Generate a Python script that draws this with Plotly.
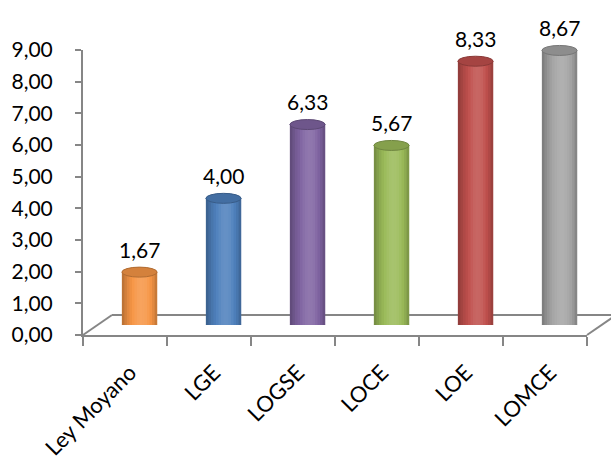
import math
import plotly.graph_objects as go

# ---- data -------------------------------------------------------------
categories = ["Ley Moyano", "LGE", "LOGSE", "LOCE", "LOE", "LOMCE"]
values = [1.67, 4.00, 6.33, 5.67, 8.33, 8.67]
bar_colors = ["#F79646", "#4F81BD", "#8064A2", "#9BBB59", "#C0504D", "#A5A5A5"]
y_ticks = [0, 1, 2, 3, 4, 5, 6, 7, 8, 9]

# ---- geometry (pixels) ------------------------------------------------
W, H = 611, 459
FRONT_LEFT, FRONT_RIGHT = 83, 587      # front floor edge
FRONT_BOTTOM, FRONT_TOP = 335, 50      # value 0 and value 9 on the front plane
DEPTH_DX, DEPTH_DY = 29, 20            # floor depth offset
BAR_FRAC = 0.42                        # cylinder width relative to category
N_STRIPS = 14                          # vertical strips used to shade each cylinder
CAP_H = 10                             # ellipse cap height in px
AXIS_GRAY = "#868686"
FONT = "Lato"


def fx(px):
    return px / W


def fy(py):
    return 1 - py / H


def rgb(hexcol):
    h = hexcol.lstrip("#")
    return tuple(int(h[i:i + 2], 16) for i in (0, 2, 4))


def shade(hexcol, level):
    r, g, b = rgb(hexcol)
    if level <= 1:
        return f"rgb({int(r * level)},{int(g * level)},{int(b * level)})"
    k = min(1.0, (level - 1) * 1.6)
    return f"rgb({int(r + (255 - r) * k)},{int(g + (255 - g) * k)},{int(b + (255 - b) * k)})"


def light_profile(t):
    # darker at both edges, highlight a little right of centre
    return 0.70 + 0.38 * math.sin(math.pi * t ** 1.2) ** 0.6


fig = go.Figure()

# invisible trace so the front axes are drawn
fig.add_trace(go.Scatter(
    x=categories, y=values, xaxis="x", yaxis="y",
    mode="markers", marker=dict(opacity=0), hoverinfo="skip", showlegend=False,
))

# cylinder bodies: one bar trace per shading strip (overlapping, drawn left to right)
step = BAR_FRAC / N_STRIPS
for k in range(N_STRIPS):
    t = (k + 0.5) / N_STRIPS
    lvl = light_profile(t)
    w = step * 2 if k < N_STRIPS - 1 else step
    fig.add_trace(go.Bar(
        x=categories, y=values,
        xaxis="x2", yaxis="y2",
        width=w,
        offset=-BAR_FRAC / 2 + k * step,
        marker=dict(color=[shade(c, lvl) for c in bar_colors], line=dict(width=0)),
        hoverinfo="skip", showlegend=False,
    ))

# value labels above each cylinder
for cat, v in zip(categories, values):
    fig.add_annotation(
        x=cat, y=v, xref="x2", yref="y2",
        text=f"{v:.2f}".replace(".", ","),
        showarrow=False, yshift=23,
        font=dict(family=FONT, size=21, color="black"),
    )

# cylinder caps (top) and rounded bottoms, sized in pixels around the data point
cat_px = (FRONT_RIGHT - FRONT_LEFT) / len(categories)
half_w = BAR_FRAC * cat_px / 2
shapes = []
for i, (v, c) in enumerate(zip(values, bar_colors)):
    shapes.append(dict(
        type="circle", xref="x2", yref="y2",
        xsizemode="pixel", ysizemode="pixel",
        xanchor=i, yanchor=0,
        x0=-half_w, x1=half_w, y0=-CAP_H / 2, y1=CAP_H / 2,
        fillcolor=shade(c, 0.88), line=dict(width=0), layer="below",
    ))
    shapes.append(dict(
        type="circle", xref="x2", yref="y2",
        xsizemode="pixel", ysizemode="pixel",
        xanchor=i, yanchor=v,
        x0=-half_w, x1=half_w, y0=-CAP_H / 2, y1=CAP_H / 2,
        fillcolor=shade(c, 0.86), line=dict(width=1, color=shade(c, 0.72)),
        layer="above",
    ))

# floor: diagonals and back edge
back_y = FRONT_BOTTOM - DEPTH_DY
floor_line = dict(color=AXIS_GRAY, width=2)
shapes += [
    dict(type="line", xref="paper", yref="paper",
         x0=fx(FRONT_LEFT), y0=fy(FRONT_BOTTOM),
         x1=fx(FRONT_LEFT + DEPTH_DX), y1=fy(back_y), line=floor_line, layer="below"),
    dict(type="line", xref="paper", yref="paper",
         x0=fx(FRONT_LEFT + DEPTH_DX), y0=fy(back_y),
         x1=1, y1=fy(back_y), line=floor_line, layer="below"),
    dict(type="line", xref="paper", yref="paper",
         x0=fx(FRONT_RIGHT), y0=fy(FRONT_BOTTOM),
         x1=fx(FRONT_RIGHT + DEPTH_DX), y1=fy(back_y), line=floor_line, layer="below"),
]

px_per_unit = (FRONT_BOTTOM - FRONT_TOP) / 9
bar_bottom = FRONT_BOTTOM - DEPTH_DY / 2
bar_top = bar_bottom - 9 * px_per_unit

fig.update_layout(
    width=W, height=H,
    margin=dict(l=0, r=0, t=0, b=0, autoexpand=False),
    paper_bgcolor="white", plot_bgcolor="rgba(0,0,0,0)",
    barmode="overlay",
    separators=",.",
    showlegend=False,
    shapes=shapes,
    font=dict(family=FONT, size=21, color="black"),
    xaxis=dict(
        domain=[fx(FRONT_LEFT), fx(FRONT_RIGHT)],
        type="category", categoryarray=categories, categoryorder="array",
        range=[-0.5, len(categories) - 0.5],
        tickmode="array", tickvals=categories, ticktext=categories,
        showline=True, linecolor=AXIS_GRAY, linewidth=2,
        ticks="outside", tickson="boundaries", ticklen=9,
        tickcolor=AXIS_GRAY, tickwidth=2,
        tickangle=-45, tickfont=dict(family=FONT, size=22),
        ticklabelstandoff=14, ticklabelshift=5,
        showgrid=False, zeroline=False, anchor="y", automargin=False,
    ),
    yaxis=dict(
        domain=[fy(FRONT_BOTTOM), fy(FRONT_TOP)],
        range=[0, 9], tickmode="array", tickvals=y_ticks, tickformat=".2f",
        showline=True, linecolor=AXIS_GRAY, linewidth=2,
        ticks="outside", ticklen=6, tickcolor=AXIS_GRAY, tickwidth=2,
        ticklabelstandoff=18,
        tickfont=dict(family=FONT, size=21),
        showgrid=False, zeroline=False, anchor="x", automargin=False,
    ),
    xaxis2=dict(
        domain=[fx(FRONT_LEFT + DEPTH_DX / 2), fx(FRONT_RIGHT + DEPTH_DX / 2)],
        type="category", categoryarray=categories, categoryorder="array",
        range=[-0.5, len(categories) - 0.5],
        visible=False, anchor="y2", automargin=False,
    ),
    yaxis2=dict(
        domain=[fy(bar_bottom), fy(bar_top)],
        range=[0, 9], visible=False, anchor="x2", automargin=False,
    ),
)

fig.write_html("out.html")
